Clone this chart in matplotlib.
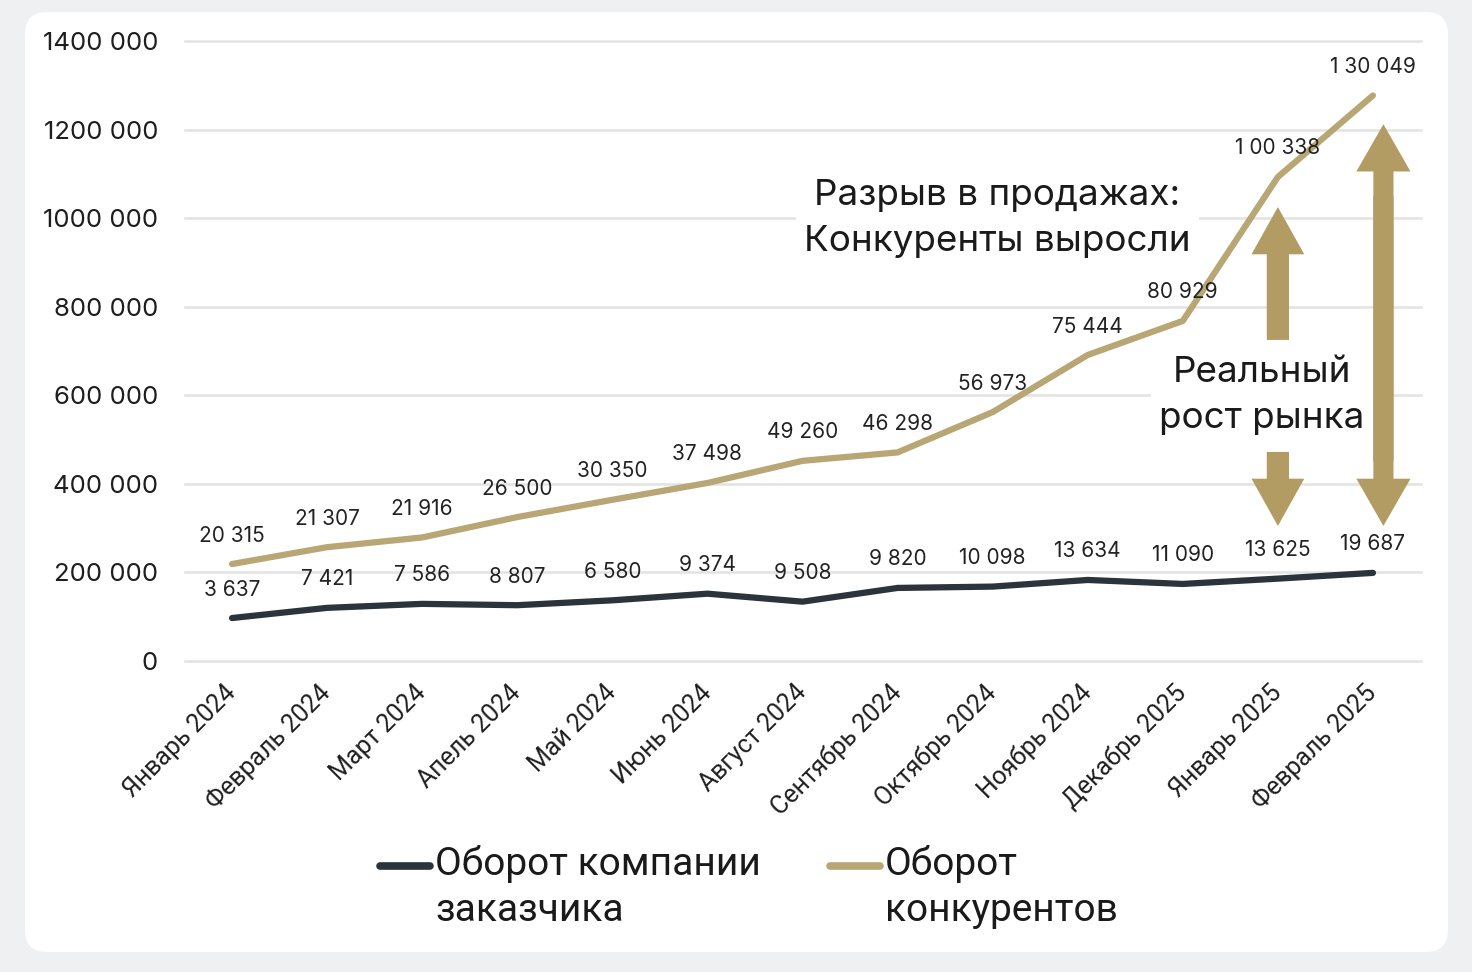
import matplotlib
matplotlib.use("Agg")
import matplotlib.pyplot as plt
from matplotlib.patches import FancyBboxPatch, FancyArrowPatch
from matplotlib.lines import Line2D

# ---------------- data ----------------
months = ["Январь 2024", "Февраль 2024", "Март 2024", "Апель 2024", "Май 2024",
          "Июнь 2024", "Август 2024", "Сентябрь 2024", "Октябрь 2024",
          "Ноябрь 2024", "Декабрь 2025", "Январь 2025", "Февраль 2025"]
client_values = [97000, 120000, 129000, 126000, 137000, 152000, 134000,
                 165000, 168000, 183000, 174000, 186000, 199000]
competitor_values = [219000, 257000, 279000, 325000, 364000, 402000, 452000,
                     471000, 562000, 691000, 768000, 1093000, 1277000]
client_labels = ["3 637", "7 421", "7 586", "8 807", "6 580", "9 374", "9 508",
                 "9 820", "10 098", "13 634", "11 090", "13 625", "19 687"]
competitor_labels = ["20 315", "21 307", "21 916", "26 500", "30 350", "37 498",
                     "49 260", "46 298", "56 973", "75 444", "80 929",
                     "1 00 338", "1 30 049"]
yticks = [0, 200000, 400000, 600000, 800000, 1000000, 1200000, 1400000]
ytick_labels = ["0", "200 000", "400 000", "600 000", "800 000",
                "1000 000", "1200 000", "1400 000"]
series_names = ["Оборот компании\nзаказчика", "Оборот\nконкурентов"]

gap_text = "Разрыв в продажах:\nКонкуренты выросли"
growth_text = "Реальный\nрост рынка"

DARK = "#2b333b"
GOLD = "#b8a674"
ARROW = "#b29c63"
GRID = "#e3e3e3"
BG = "#eff0f2"

W, H = 1472, 972
fig = plt.figure(figsize=(W / 100, H / 100), dpi=100)
fig.patch.set_facecolor(BG)

panel = FancyBboxPatch((0.25, 0.20), 14.23, 9.40,
                       boxstyle="round,pad=0,rounding_size=0.22",
                       transform=fig.dpi_scale_trans, facecolor="white",
                       edgecolor="none", zorder=-5)
fig.add_artist(panel)

ax = fig.add_axes([184.5 / W, 1 - 661 / H, (1420.5 - 184.5) / W, 620 / H])
ax.set_facecolor("none")
x = list(range(len(months)))
ax.set_xlim(-0.5, len(months) - 0.5)
ax.set_ylim(0, 1400000)

for s in ax.spines.values():
    s.set_visible(False)

ax.set_yticks(yticks)
ax.set_yticklabels(ytick_labels, fontsize=18.5, family="Inter", color="#1e1e1e")
ax.yaxis.grid(True, color=GRID, linewidth=1.8)
for gl in ax.get_ygridlines():
    gl.set_clip_on(False)
ax.set_axisbelow(True)
ax.tick_params(axis="y", length=0, pad=19)

ax.set_xticks(x)
ax.set_xticklabels(months, rotation=45, ha="right", va="center",
                   rotation_mode="anchor", fontsize=18, family="Roboto",
                   color="#1e1e1e")
ax.tick_params(axis="x", length=0, pad=20)

ax.plot(x, client_values, color=DARK, linewidth=4.5, solid_joinstyle="round",
        solid_capstyle="round", zorder=3)
ax.plot(x, competitor_values, color=GOLD, linewidth=4.5, solid_joinstyle="round",
        solid_capstyle="round", zorder=3)

for xi, v, lab in zip(x, client_values, client_labels):
    ax.annotate(lab, (xi, v), xytext=(0, 20.5), textcoords="offset points",
                ha="center", va="center", fontsize=15, family="Inter",
                color="#222222", zorder=4)
for xi, v, lab in zip(x, competitor_values, competitor_labels):
    ax.annotate(lab, (xi, v), xytext=(0, 20.5), textcoords="offset points",
                ha="center", va="center", fontsize=15, family="Inter",
                color="#222222", zorder=4)

# annotation texts
ax.text(8.05, 1000000, gap_text, ha="center", va="center", fontsize=26.5,
        family="Inter", color="#1a1a1a", linespacing=1.5, zorder=5,
        bbox=dict(facecolor="white", edgecolor="none", pad=6))
ax.text(10.83, 600000, growth_text, ha="center", va="center", fontsize=26.5,
        family="Inter", color="#1a1a1a", linespacing=1.5, zorder=5,
        bbox=dict(facecolor="white", edgecolor="none", pad=6))

# arrows
ARROW_X_MID = 11.0
ARROW_X_RIGHT = 12.11
mid_style = "Simple,head_length=34,head_width=38,tail_width=16"
right_style = "Simple,head_length=34,head_width=39,tail_width=14.5"
arrows = [
    ((ARROW_X_MID, 725000), (ARROW_X_MID, 1025000), mid_style),
    ((ARROW_X_MID, 472000), (ARROW_X_MID, 305000), mid_style),
    ((ARROW_X_RIGHT, 450000), (ARROW_X_RIGHT, 1212000), right_style),
    ((ARROW_X_RIGHT, 1050000), (ARROW_X_RIGHT, 305000), right_style),
]
for (a, b, st) in arrows:
    p = FancyArrowPatch(a, b, arrowstyle=st, mutation_scale=1, color=ARROW,
                        shrinkA=0, shrinkB=0, linewidth=0, zorder=4)
    ax.add_patch(p)

# legend (manual, handles aligned with first text line)
leg_y = 1 - 866 / H
fig.add_artist(Line2D([380 / W, 430 / W], [leg_y, leg_y], color=DARK,
                      linewidth=5.5, solid_capstyle="round"))
fig.add_artist(Line2D([830 / W, 880 / W], [leg_y, leg_y], color=GOLD,
                      linewidth=5.5, solid_capstyle="round"))
fig.text(435 / W, 1 - 845 / H, series_names[0], ha="left", va="top",
         fontsize=28, family="Roboto", color="#1a1a1a", linespacing=1.3)
fig.text(885 / W, 1 - 845 / H, series_names[1], ha="left", va="top",
         fontsize=28, family="Roboto", color="#1a1a1a", linespacing=1.3)

fig.savefig("out.png", dpi=100, facecolor=fig.get_facecolor())
